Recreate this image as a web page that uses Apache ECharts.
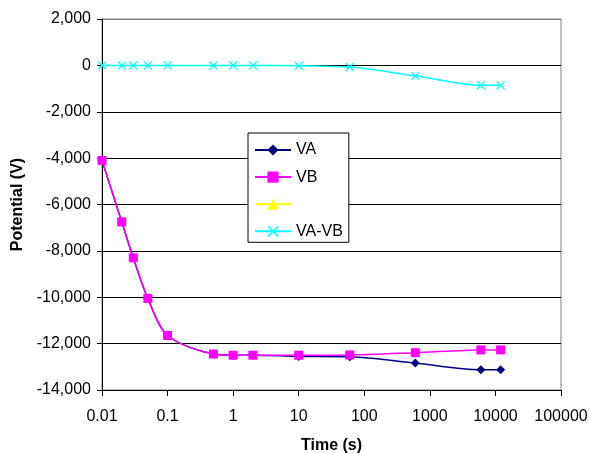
<!DOCTYPE html>
<html>
<head>
<meta charset="utf-8">
<script src="https://cdn.jsdelivr.net/npm/echarts@6/dist/echarts.min.js"></script>
<style>
    html, body { margin: 0; padding: 0; background: #fff; }
    #chart { width: 590px; height: 453px; }
</style>
</head>
<body>
<div id="chart"></div>
<script>
var times = [0.01, 0.02, 0.03, 0.05, 0.1, 0.5, 1, 2, 10, 60, 600, 6000, 12000];
var va = [-4100, -6750, -8300, -10050, -11650, -12450, -12500, -12500, -12550, -12570, -12840, -13130, -13130];
var vb = [-4100, -6750, -8300, -10050, -11650, -12450, -12500, -12500, -12500, -12490, -12390, -12270, -12270];
var vaMinusVb = [0, 0, 0, 0, 0, 0, 0, 0, -20, -70, -450, -860, -860];
var seriesNames = ['VA', 'VB', ' ', 'VA-VB'];
var yTicks = [-14000, -12000, -10000, -8000, -6000, -4000, -2000, 0, 2000];

function pairs(vals) {
    return times.map(function (t, i) { return [t, vals[i]]; });
}
function thousands(v) {
    var s = String(Math.abs(v)).replace(/\B(?=(\d{3})+(?!\d))/g, ',');
    return (v < 0 ? '-' : '') + s;
}

// cross marker (filled so it shows as a symbol)
var crossPath = 'path://M0,1L1,0L5,4L9,0L10,1L6,5L10,9L9,10L5,6L1,10L0,9L4,5Z';
var font = 'Liberation Sans, Arial, sans-serif';

var myChart = echarts.init(document.getElementById('chart'));
var option = {
    backgroundColor: '#fff',
    animation: false,
    textStyle: { fontFamily: font },
    grid: {
        left: 102,
        right: 29,
        top: 19,
        bottom: 63,
        outerBoundsMode: 'none',
        show: true,
        borderColor: '#808080',
        borderWidth: 1
    },
    legend: {
        data: seriesNames,
        orient: 'vertical',
        left: 248,
        top: 133,
        width: 102,
        padding: [9, 6, 3, 6],
        itemWidth: 36,
        itemHeight: 14,
        itemGap: 11.1,
        backgroundColor: '#fff',
        borderColor: '#000',
        borderWidth: 1,
        borderRadius: 0,
        textStyle: { fontFamily: font, fontSize: 16, color: '#000' }
    },
    xAxis: {
        type: 'log',
        logBase: 10,
        min: 0.01,
        max: 100000,
        splitNumber: 7,
        name: 'Time (s)',
        nameLocation: 'middle',
        nameGap: 48,
        nameTextStyle: { fontFamily: font, fontSize: 16, fontWeight: 'bold', color: '#000' },
        axisLine: { onZero: false, lineStyle: { color: '#000', width: 1 } },
        axisTick: { show: true, inside: false, length: 6, lineStyle: { color: '#000' } },
        minorTick: { show: false },
        splitLine: { show: false },
        axisLabel: {
            margin: 19,
            fontSize: 16,
            color: '#000',
            fontFamily: font,
            formatter: function (v) { return String(+Number(v).toPrecision(1)); }
        }
    },
    yAxis: {
        type: 'value',
        min: yTicks[0],
        max: yTicks[yTicks.length - 1],
        interval: 2000,
        name: 'Potential (V)',
        nameLocation: 'middle',
        nameGap: 76,
        nameTextStyle: { fontFamily: font, fontSize: 16, fontWeight: 'bold', color: '#000' },
        axisLine: { show: true, lineStyle: { color: '#000', width: 1 } },
        axisTick: { show: true, inside: false, length: 5, lineStyle: { color: '#000' } },
        splitLine: {
            show: true,
            lineStyle: {
                color: ['#000', '#000', '#000', '#000', '#000', '#000', '#000', '#000', '#808080'],
                width: 1
            }
        },
        axisLabel: {
            margin: 11,
            fontSize: 16,
            color: '#000',
            fontFamily: font,
            formatter: thousands
        }
    },
    series: [
        {
            name: seriesNames[0],
            type: 'line',
            smooth: 0.3,
            data: pairs(va),
            symbol: 'diamond',
            symbolSize: 9,
            itemStyle: { color: '#000080' },
            lineStyle: { color: '#000080', width: 1.5 }
        },
        {
            name: seriesNames[1],
            type: 'line',
            smooth: 0.3,
            data: pairs(vb),
            symbol: 'rect',
            symbolSize: 9,
            itemStyle: { color: '#ff00ff' },
            lineStyle: { color: '#ff00ff', width: 1.5 }
        },
        {
            name: seriesNames[2],
            type: 'line',
            data: [],
            symbol: 'triangle',
            symbolSize: 9,
            itemStyle: { color: '#ffff00' },
            lineStyle: { color: '#ffff00', width: 1.5 }
        },
        {
            name: seriesNames[3],
            type: 'line',
            smooth: 0.3,
            data: pairs(vaMinusVb),
            symbol: crossPath,
            symbolSize: 9,
            itemStyle: { color: '#00ffff' },
            lineStyle: { color: '#00ffff', width: 1.5 }
        }
    ]
};
myChart.setOption(option);
</script>
</body>
</html>
